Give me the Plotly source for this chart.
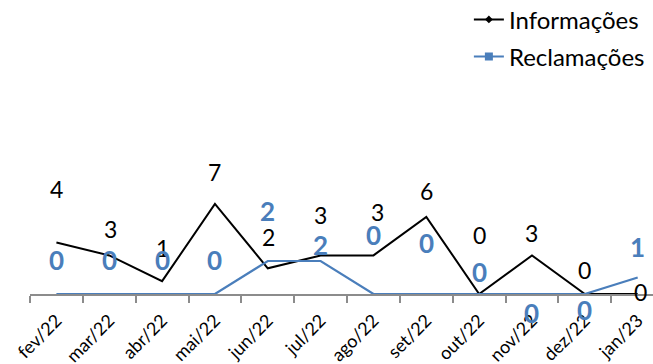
import plotly.graph_objects as go

# Monthly counts
meses = ["fev/22", "mar/22", "abr/22", "mai/22", "jun/22", "jul/22",
         "ago/22", "set/22", "out/22", "nov/22", "dez/22", "jan/23"]
informacoes = [4, 3, 1, 7, 2, 3, 3, 6, 0, 3, 0, 0]
reclamacoes = [0, 0, 0, 0, 2, 2, 0, 0, 0, 0, 0, 1]

# Data-label placement (pixels above the point; negative = below)
desloc_info = [54, 26, 33, 32, 31, 40, 43, 26, 59, 22, 24, 2]
desloc_info_x = [0, 1, 0, 0, 1, 0, 4, 0, 0, 0, 0, 3]
desloc_recl = [34, 34, 34, 34, 50, 16, 59, 51, 22, -19, -16, 31]

PRETO = "#000000"
AZUL = "#4a7ebb"
FONTE = "Lato"

fig = go.Figure()

fig.add_trace(go.Scatter(
    x=meses, y=informacoes, mode="lines", name="Informações",
    line=dict(color=PRETO, width=2), showlegend=False, yaxis="y"))
fig.add_trace(go.Scatter(
    x=meses, y=reclamacoes, mode="lines", name="Reclamações",
    line=dict(color=AZUL, width=2.2), showlegend=False, yaxis="y2"))

# Legend entries
fig.add_trace(go.Scatter(
    x=[None], y=[None], mode="lines+markers", name="Informações",
    line=dict(color=PRETO, width=2), marker=dict(symbol="diamond", size=6, color=PRETO),
    legendgroup="a"))
fig.add_trace(go.Scatter(
    x=[None], y=[None], mode="lines+markers", name="Reclamações",
    line=dict(color=AZUL, width=2), marker=dict(symbol="square", size=8, color=AZUL),
    legendgroup="b"))

anots = []
for i, (m, v) in enumerate(zip(meses, informacoes)):
    anots.append(dict(x=m, y=v, xref="x", yref="y", text=str(v), showarrow=False,
                      yshift=desloc_info[i], xshift=desloc_info_x[i],
                      font=dict(family=FONTE, size=23, color=PRETO)))
for i, (m, v) in enumerate(zip(meses, reclamacoes)):
    anots.append(dict(x=m, y=v, xref="x", yref="y2", text=f"<b>{v}</b>", showarrow=False,
                      yshift=desloc_recl[i],
                      font=dict(family=FONTE, size=26, color=AZUL)))

fig.update_layout(
    width=653, height=364,
    margin=dict(l=30, r=0, t=165, b=70, autoexpand=False),
    paper_bgcolor="white", plot_bgcolor="white",
    font=dict(family=FONTE, color="#000000"),
    annotations=anots,
    showlegend=True,
    legend=dict(
        x=0.995, xanchor="right", y=2.30, yanchor="top",
        font=dict(family=FONTE, size=24, color="#000000"),
        tracegroupgap=3, itemwidth=30,
        bgcolor="rgba(0,0,0,0)",
    ),
    xaxis=dict(
        type="category", range=[-0.5, 11.29], automargin=False,
        showline=True, linecolor="#8c8c8c", linewidth=2, layer="below traces",
        ticks="outside", ticklen=7, tickcolor="#8c8c8c", tickwidth=2,
        tickson="boundaries", tickangle=-45, ticklabelstandoff=7,
        tickfont=dict(family=FONTE, size=18, color="#000000"),
        showgrid=False, zeroline=False,
    ),
    yaxis=dict(range=[0, 10.03], visible=False, showgrid=False, zeroline=False),
    yaxis2=dict(range=[0, 7.82], visible=False, showgrid=False, zeroline=False,
                overlaying="y", side="right"),
)

fig.write_html("out.html")
